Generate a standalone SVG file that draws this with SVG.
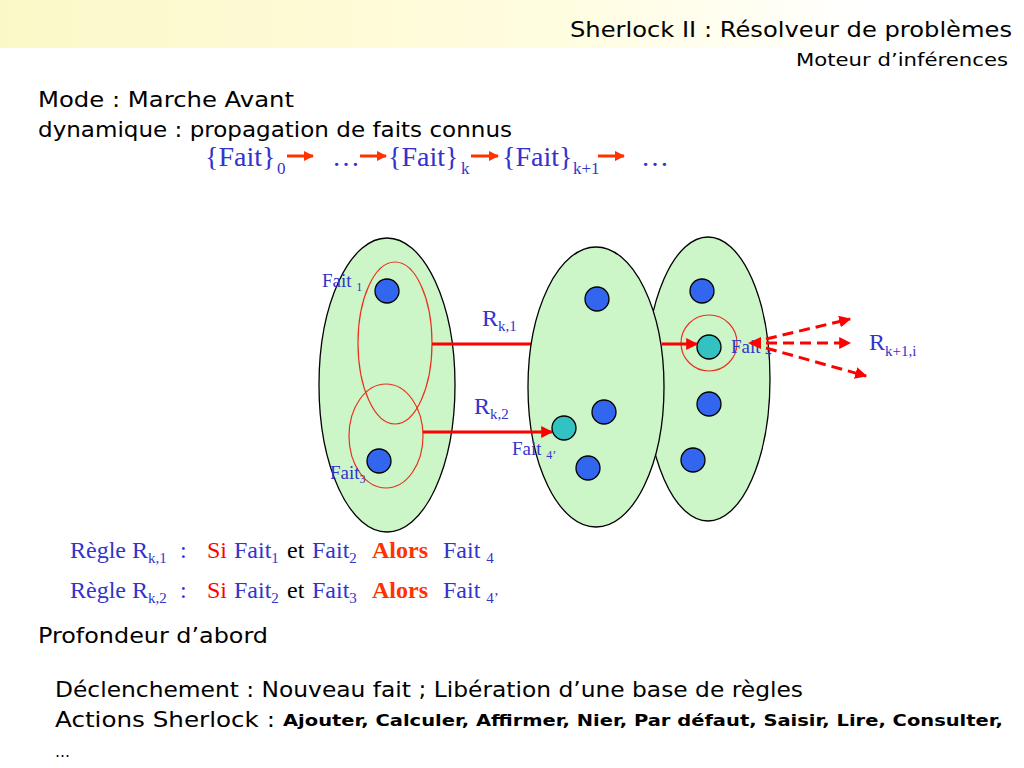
<svg xmlns="http://www.w3.org/2000/svg" width="1024" height="768" viewBox="0 0 1024 768">
<defs>
<linearGradient id="hdr" x1="0" y1="0" x2="1" y2="0">
<stop offset="0" stop-color="#fbf8c8"/>
<stop offset="0.55" stop-color="#fffde0"/>
<stop offset="0.85" stop-color="#ffffff"/>
</linearGradient>
<marker id="ah" viewBox="0 0 10 10" refX="9" refY="5" markerWidth="4" markerHeight="4" orient="auto" markerUnits="strokeWidth">
<path d="M0,0 L10,5 L0,10 z" fill="#ff0000"/>
</marker>
<marker id="fa" viewBox="0 0 10 10" refX="9" refY="5" markerWidth="3.5" markerHeight="3.5" orient="auto" markerUnits="strokeWidth">
<path d="M0,0 L10,5 L0,10 z" fill="#ff3300"/>
</marker>
<style>
.cs{font-family:"DejaVu Sans","Open Sans",sans-serif;fill:#000}
.tm{font-family:"Liberation Serif","Times New Roman",serif}
.bl{fill:#3333cc}
.rd{fill:#ff0000}
.or{fill:#ff3300}
.set{fill:#ccf5c8;stroke:#000;stroke-width:1.3}
.dot{fill:#3366ee;stroke:#000;stroke-width:1.3}
.cy{fill:#33c2c2;stroke:#000;stroke-width:1.3}
.sel{fill:none;stroke:#e8321e;stroke-width:1.2}
.ar{stroke:#ff0000;stroke-width:3;fill:none}
.fa{stroke:#ff3300;stroke-width:3;fill:none}
.da{stroke:#ff0000;stroke-width:3;fill:none;stroke-dasharray:11 6}
</style>
</defs>
<rect x="0" y="0" width="1024" height="768" fill="#fff"/>
<rect x="0" y="0" width="1024" height="48" fill="url(#hdr)"/>

<text class="cs" x="1012" y="37" font-size="21" text-anchor="end" textLength="442" lengthAdjust="spacingAndGlyphs">Sherlock II : Résolveur de problèmes</text>
<text class="cs" x="1008" y="66" font-size="18" text-anchor="end" textLength="212" lengthAdjust="spacingAndGlyphs">Moteur d’inférences</text>
<text class="cs" x="38" y="107" font-size="22" textLength="256" lengthAdjust="spacingAndGlyphs">Mode : Marche Avant</text>
<text class="cs" x="38" y="137" font-size="22" textLength="474" lengthAdjust="spacingAndGlyphs">dynamique : propagation de faits connus</text>

<g id="formula" class="tm" font-size="28">
<text class="bl" x="205" y="166">{Fait}</text><text class="bl" x="277" y="174" font-size="17">0</text>
<line class="fa" x1="287" y1="156" x2="313" y2="156" marker-end="url(#fa)"/>
<text class="bl" x="332" y="166">…</text>
<line class="fa" x1="360" y1="156" x2="386" y2="156" marker-end="url(#fa)"/>
<text class="bl" x="388" y="166">{Fait}</text><text class="bl" x="461" y="174" font-size="17">k</text>
<line class="fa" x1="471" y1="156" x2="498" y2="156" marker-end="url(#fa)"/>
<text class="bl" x="502" y="166">{Fait}</text><text class="bl" x="573" y="174" font-size="17">k+1</text>
<line class="fa" x1="598" y1="156" x2="624" y2="156" marker-end="url(#fa)"/>
<text class="bl" x="641" y="166">…</text>
</g>

<g id="set-k">
<ellipse class="set" cx="387" cy="385" rx="68" ry="147"/>
<ellipse class="sel" cx="395" cy="343" rx="37" ry="81"/>
<ellipse class="sel" cx="386" cy="436" rx="37" ry="52"/>
<circle class="dot" cx="387" cy="291" r="12"/>
<circle class="dot" cx="379" cy="461" r="12"/>
<text class="tm bl" x="322" y="287" font-size="19">Fait <tspan font-size="12" dy="4">1</tspan></text>
<text class="tm bl" x="330" y="479" font-size="19">Fait<tspan font-size="12" dy="4">3</tspan></text>
</g>

<g id="set-k1-right">
<ellipse class="set" cx="708" cy="379" rx="62" ry="142"/>
</g>

<g id="connectors-behind">
<line class="ar" x1="432" y1="344" x2="540" y2="344"/>
</g>

<g id="set-k1">
<ellipse class="set" cx="596" cy="387" rx="68" ry="140"/>
<circle class="dot" cx="597" cy="299" r="12"/>
<circle class="dot" cx="604" cy="412" r="12"/>
<circle class="dot" cx="588" cy="468" r="12"/>
<circle class="cy" cx="564" cy="428" r="12"/>
<text class="tm bl" x="512" y="455" font-size="19">Fait <tspan font-size="12" dy="4">4’</tspan></text>
</g>

<g id="set-k1-right-content">
<circle class="dot" cx="702" cy="291" r="12"/>
<circle class="dot" cx="709" cy="404" r="12"/>
<circle class="dot" cx="693" cy="460" r="12"/>
<circle class="sel" cx="709" cy="343" r="28"/>
<circle class="cy" cx="709" cy="347" r="12"/>
<text class="tm bl" x="731" y="353" font-size="19">Fait <tspan font-size="12" dy="3">4</tspan></text>
</g>

<g id="connectors">
<line class="ar" x1="662" y1="344" x2="697" y2="344" marker-end="url(#ah)"/>
<line class="ar" x1="423" y1="432" x2="552" y2="432" marker-end="url(#ah)"/>
<path d="M748,343 L761,337 L761,349 z" fill="#ff0000"/>
<line class="da" x1="766" y1="339" x2="850" y2="319" marker-end="url(#ah)"/>
<line class="da" x1="766" y1="343" x2="850" y2="343" marker-end="url(#ah)"/>
<line class="da" x1="766" y1="348" x2="866" y2="376" marker-end="url(#ah)"/>
<text class="tm bl" x="482" y="326" font-size="24">R<tspan font-size="15" dy="5">k,1</tspan></text>
<text class="tm bl" x="474" y="414" font-size="24">R<tspan font-size="15" dy="5">k,2</tspan></text>
<text class="tm bl" x="869" y="350" font-size="24">R<tspan font-size="15" dy="6">k+1,i</tspan></text>
</g>

<g id="rules" class="tm" font-size="24">
<text class="bl" x="70" y="558">Règle R<tspan font-size="15" dy="5">k,1</tspan></text>
<text class="bl" x="180" y="558">:</text>
<text class="rd" x="207" y="558">Si</text>
<text class="bl" x="234" y="558">Fait<tspan font-size="15" dy="5">1</tspan></text>
<text x="287" y="558" fill="#000">et</text>
<text class="bl" x="312" y="558">Fait<tspan font-size="15" dy="5">2</tspan></text>
<text class="or" x="372" y="558" font-weight="bold">Alors</text>
<text class="bl" x="443" y="558">Fait <tspan font-size="15" dy="5">4</tspan></text>

<text class="bl" x="70" y="598">Règle R<tspan font-size="15" dy="5">k,2</tspan></text>
<text class="bl" x="180" y="598">:</text>
<text class="rd" x="207" y="598">Si</text>
<text class="bl" x="234" y="598">Fait<tspan font-size="15" dy="5">2</tspan></text>
<text x="287" y="598" fill="#000">et</text>
<text class="bl" x="312" y="598">Fait<tspan font-size="15" dy="5">3</tspan></text>
<text class="or" x="372" y="598" font-weight="bold">Alors</text>
<text class="bl" x="443" y="598">Fait <tspan font-size="15" dy="5">4’</tspan></text>
</g>

<text class="cs" x="38" y="643" font-size="22" textLength="230" lengthAdjust="spacingAndGlyphs">Profondeur d’abord</text>
<text class="cs" x="55" y="697" font-size="22" textLength="748" lengthAdjust="spacingAndGlyphs">Déclenchement : Nouveau fait ; Libération d’une base de règles</text>
<text class="cs" x="55" y="727" font-size="22" textLength="220" lengthAdjust="spacingAndGlyphs">Actions Sherlock :</text>
<text class="cs" x="283" y="726" font-size="15" font-weight="bold" textLength="720" lengthAdjust="spacingAndGlyphs">Ajouter, Calculer, Affirmer, Nier, Par défaut, Saisir, Lire, Consulter,</text>
<text class="cs" x="55" y="757" font-size="15">…</text>
</svg>
